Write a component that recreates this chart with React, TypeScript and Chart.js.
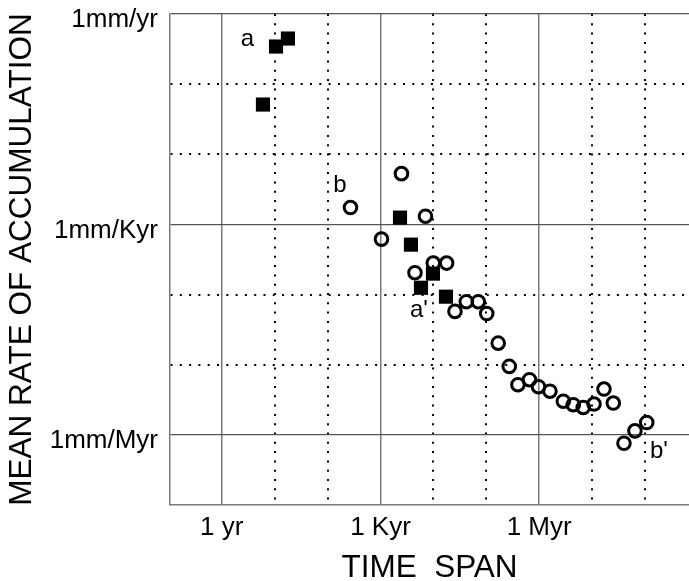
import React, { useEffect, useRef } from "react";
import { Chart, registerables } from "chart.js";

Chart.register(...registerables);

// Time span (years) and mean rate of accumulation (mm/yr)
const squareSpans = [6.0, 10.6, 17.8, 2340, 3770, 5830, 9820, 17300];
const squareRates = [0.0512, 0.344, 0.447, 1.25e-3, 5.15e-4, 1.25e-4, 1.99e-4, 9.33e-5];

const circleSpans = [
  271, 1045, 2495, 4490, 7090, 9960, 17800, 25600, 41900, 70600, 102000,
  168000, 272000, 397000, 656000, 970000, 1.6e6, 2.86e6, 4.41e6, 6.82e6,
  1.09e7, 1.68e7, 2.52e7, 4.01e7, 6.47e7, 1.08e8,
];
const circleRates = [
  1.74e-3, 6.17e-4, 5.3e-3, 2.05e-4, 1.31e-3, 2.81e-4, 2.81e-4, 5.76e-5, 7.92e-5, 7.92e-5, 5.37e-5,
  2.03e-5, 9.46e-6, 5.19e-6, 6.11e-6, 4.86e-6, 4.19e-6, 3.02e-6, 2.69e-6, 2.46e-6,
  2.75e-6, 4.5e-6, 2.84e-6, 7.59e-7, 1.14e-6, 1.5e-6,
];

const noteTexts = ["a", "b", "a'", "b'"];
const noteSpans = [3.06, 171, 5340, 1.84e8];
const noteRates = [0.44, 3.58e-3, 5.89e-5, 5.74e-7];

const xGridValues = [1, 10, 100, 1e3, 1e4, 1e5, 1e6, 1e7, 1e8];
const xMajorValues = [1, 1e3, 1e6];
const xMajorLabels = ["1 yr", "1 Kyr", "1 Myr"];

const yGridValues = [1, 0.1, 0.01, 1e-3, 1e-4, 1e-5, 1e-6];
const yMajorValues = [1, 1e-3, 1e-6];
const yMajorLabels = ["1mm/yr", "1mm/Kyr", "1mm/Myr"];

const FONT = '"Liberation Sans", Arial, Helvetica, sans-serif';

const majorIndex = (list: number[], v: number | undefined) => {
  if (v === undefined || v === null) return -1;
  return list.findIndex((m) => Math.abs(Math.log10(m) - Math.log10(v)) < 1e-6);
};

const zeroPadding = (scale: any) => {
  scale.paddingTop = 0;
  scale.paddingBottom = 0;
  scale.paddingLeft = 0;
  scale.paddingRight = 0;
};

const notesPlugin = {
  id: "notes",
  afterDatasetsDraw(chart: any) {
    const { ctx, scales } = chart;
    const xs = scales.x;
    const ys = scales.y;
    ctx.save();
    ctx.font = `24px ${FONT}`;
    ctx.fillStyle = "#000";
    ctx.textAlign = "center";
    ctx.textBaseline = "middle";
    noteTexts.forEach((t, i) => {
      ctx.fillText(t, xs.getPixelForValue(noteSpans[i]), ys.getPixelForValue(noteRates[i]));
    });
    ctx.restore();
  },
};

export default function App() {
  const ref = useRef<HTMLCanvasElement | null>(null);

  useEffect(() => {
    if (!ref.current) return;
    const chart = new Chart(ref.current, {
      type: "scatter",
      data: {
        datasets: [
          {
            label: "a",
            data: squareSpans.map((s, i) => ({ x: s, y: squareRates[i] })),
            pointStyle: "rect",
            pointRadius: 10,
            pointHoverRadius: 10,
            pointBackgroundColor: "#000",
            pointBorderColor: "#000",
            pointBorderWidth: 0,
          },
          {
            label: "b",
            data: circleSpans.map((s, i) => ({ x: s, y: circleRates[i] })),
            pointStyle: "circle",
            pointRadius: 6.3,
            pointHoverRadius: 6.3,
            pointBackgroundColor: "rgba(0,0,0,0)",
            pointBorderColor: "#000",
            pointBorderWidth: 3,
          },
        ],
      },
      options: {
        animation: false,
        responsive: false,
        devicePixelRatio: 1,
        layout: { autoPadding: false, padding: { top: 14, right: 0, bottom: 0, left: 0 } },
        plugins: {
          legend: { display: false },
          tooltip: { enabled: false },
        },
        scales: {
          x: {
            type: "logarithmic",
            position: "bottom",
            min: 0.105,
            max: 6.8e8,
            afterBuildTicks: (scale: any) => {
              scale.ticks = xGridValues.map((v) => ({ value: v }));
            },
            afterFit: (scale: any) => {
              scale.height = 76;
              zeroPadding(scale);
            },
            grid: {
              drawTicks: false,
              color: (c: any) => (majorIndex(xMajorValues, c.tick?.value) >= 0 ? "#7a7a7a" : "#000"),
              lineWidth: (c: any) => (majorIndex(xMajorValues, c.tick?.value) >= 0 ? 1.5 : 2),
            },
            border: {
              display: true,
              color: "#7a7a7a",
              width: 1.5,
              dash: (c: any) => (c.tick && majorIndex(xMajorValues, c.tick.value) < 0 ? [2, 7.3] : []),
            },
            ticks: {
              autoSkip: false,
              maxRotation: 0,
              minRotation: 0,
              padding: 7,
              color: "#000",
              font: { family: FONT, size: 26 },
              callback: (v: any) => {
                const k = majorIndex(xMajorValues, Number(v));
                return k >= 0 ? xMajorLabels[k] : "";
              },
            },
            title: {
              display: true,
              text: "TIME  SPAN",
              color: "#000",
              font: { family: FONT, size: 31.5, lineHeight: 0.8 },
              padding: { top: 0, bottom: 0 },
            },
          },
          y: {
            type: "logarithmic",
            position: "left",
            min: 1e-7,
            max: 1,
            afterBuildTicks: (scale: any) => {
              scale.ticks = yGridValues.map((v) => ({ value: v }));
            },
            afterFit: (scale: any) => {
              scale.width = 170;
              zeroPadding(scale);
            },
            grid: {
              drawTicks: false,
              color: (c: any) => (majorIndex(yMajorValues, c.tick?.value) >= 0 ? "#555" : "#000"),
              lineWidth: (c: any) => (majorIndex(yMajorValues, c.tick?.value) >= 0 ? 1.2 : 2),
            },
            border: {
              display: true,
              color: "#7a7a7a",
              width: 1.5,
              dash: (c: any) => (c.tick && majorIndex(yMajorValues, c.tick.value) < 0 ? [2, 7.3] : []),
            },
            ticks: {
              autoSkip: false,
              padding: 12,
              labelOffset: 6,
              color: "#000",
              font: { family: FONT, size: 26 },
              callback: (v: any) => {
                const k = majorIndex(yMajorValues, Number(v));
                return k >= 0 ? yMajorLabels[k] : "";
              },
            },
            title: {
              display: true,
              text: "MEAN RATE OF ACCUMULATION",
              color: "#000",
              font: { family: FONT, size: 31.5, lineHeight: 1 },
              padding: { top: 7, bottom: 0 },
            },
          },
        },
      } as any,
      plugins: [notesPlugin],
    });
    return () => chart.destroy();
  }, []);

  return (
    <div style={{ position: "absolute", left: 0, top: 0, width: 689, height: 581, background: "#fff" }}>
      <canvas ref={ref} width={689} height={581} style={{ width: 689, height: 581, display: "block" }} />
    </div>
  );
}
